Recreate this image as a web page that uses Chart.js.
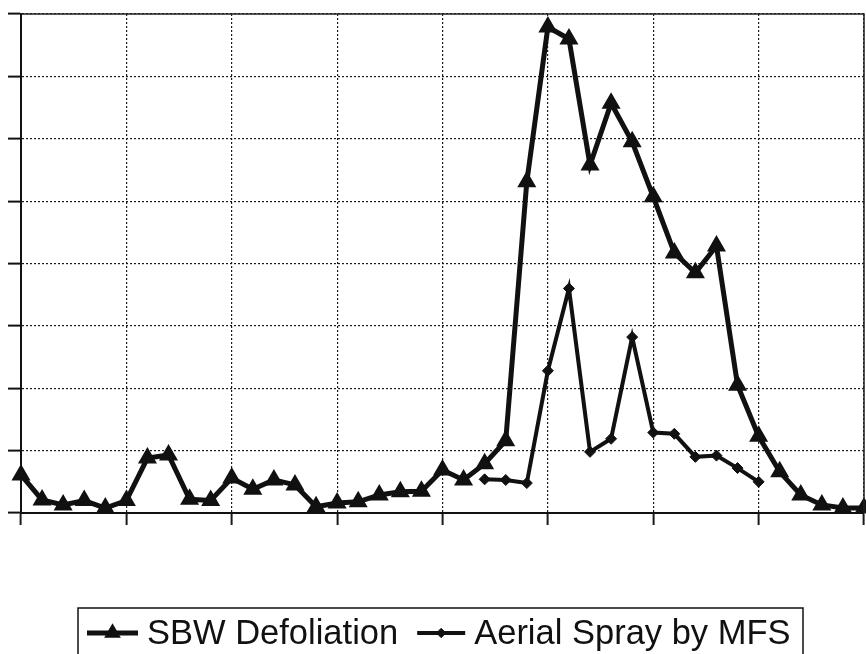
<!DOCTYPE html>
<html>
<head>
<meta charset="utf-8">
<script src="https://cdn.jsdelivr.net/npm/chart.js@4/dist/chart.umd.min.js"></script>
<style>
  html, body { margin: 0; padding: 0; background: #fff; }
  #wrap { width: 866px; height: 654px; }
</style>
</head>
<body>
<div id="wrap"><canvas id="chart" width="866" height="654"></canvas></div>
<script>
// one label per year step, 41 steps; gridline every 5th
const years = Array.from({length: 41}, (_, i) => String(i + 1));

const sbwDefoliation = [6.1, 2.1, 1.3, 2.0, 0.8, 2.0, 8.8, 9.3, 2.2, 2.0,
  5.6, 3.8, 5.3, 4.5, 1.0, 1.6, 1.8, 2.9, 3.4, 3.5,
  6.9, 5.3, 7.9, 11.6, 53.1, 77.9, 76.0, 55.8, 65.7, 59.5,
  50.7, 41.7, 38.5, 42.8, 20.5, 12.3, 6.6, 2.9, 1.3, 0.8, 0.8];

const aerialSpray = [null, null, null, null, null, null, null, null, null, null,
  null, null, null, null, null, null, null, null, null, null,
  null, null, 5.4, 5.3, 4.8, 22.8, 36.0, 9.8, 11.9, 28.2,
  12.9, 12.7, 9.0, 9.2, 7.2, 5.0, null, null, null, null, null];

const yMax = 80;
const yStep = 10;
const ink = '#111';

// legend drawn in a box under the plot, like the original
const legendBox = {
  id: 'legendBox',
  afterDraw(chart) {
    const {ctx} = chart;
    const sets = chart.data.datasets;
    ctx.save();
    ctx.strokeStyle = ink;
    ctx.lineWidth = 1.5;
    ctx.beginPath();
    ctx.moveTo(78, 656);
    ctx.lineTo(78, 608);
    ctx.lineTo(803, 608);
    ctx.lineTo(803, 656);
    ctx.stroke();

    ctx.font = '34.5px "Liberation Sans", Arial, sans-serif';
    ctx.textBaseline = 'middle';
    const y = 633;
    let x = 87;
    sets.forEach((ds, i) => {
      const w = i === 0 ? 51 : 48;
      ctx.strokeStyle = ds.borderColor;
      ctx.lineWidth = ds.borderWidth;
      ctx.beginPath();
      ctx.moveTo(x, y);
      ctx.lineTo(x + w, y);
      ctx.stroke();
      ctx.fillStyle = ds.pointBackgroundColor;
      ctx.strokeStyle = ds.pointBorderColor;
      ctx.lineWidth = ds.pointBorderWidth;
      Chart.helpers.drawPoint(ctx, {
        pointStyle: ds.pointStyle,
        radius: ds.pointRadius * 0.85,
        rotation: 0,
        borderWidth: ds.pointBorderWidth
      }, x + w / 2, y);
      ctx.fillStyle = ink;
      ctx.fillText(ds.label, x + w + 9, y + 1);
      x += w + 9 + ctx.measureText(ds.label).width + 19;
    });

    // plot frame top and right
    const a = chart.chartArea;
    ctx.strokeStyle = '#222';
    ctx.lineWidth = 1.5;
    ctx.beginPath();
    ctx.moveTo(a.left, a.top);
    ctx.lineTo(a.right, a.top);
    ctx.lineTo(a.right, a.bottom);
    ctx.stroke();
    ctx.restore();
  }
};

const gridColor = c => (c.index % 5 === 0 ? '#1a1a1a' : 'rgba(0,0,0,0)');

new Chart(document.getElementById('chart'), {
  type: 'line',
  data: {
    labels: years,
    datasets: [{
      label: 'SBW Defoliation',
      data: sbwDefoliation,
      borderColor: ink,
      borderWidth: 5,
      pointStyle: 'triangle',
      pointRadius: 9,
      pointBackgroundColor: ink,
      pointBorderColor: ink,
      pointBorderWidth: 2,
      tension: 0,
      clip: false,
      order: 1
    }, {
      label: 'Aerial Spray by MFS',
      data: aerialSpray,
      borderColor: ink,
      borderWidth: 4,
      pointStyle: 'rectRot',
      pointRadius: 5.5,
      pointBackgroundColor: ink,
      pointBorderColor: ink,
      pointBorderWidth: 1,
      tension: 0,
      spanGaps: false,
      clip: false,
      order: 2
    }]
  },
  options: {
    responsive: false,
    animation: false,
    layout: { autoPadding: false, padding: { left: 8, right: 2, top: 14, bottom: 129 } },
    plugins: {
      legend: { display: false },
      tooltip: { enabled: false }
    },
    scales: {
      x: {
        type: 'category',
        offset: false,
        ticks: { display: false },
        grid: {
          color: gridColor,
          tickColor: gridColor,
          tickLength: 12,
          tickWidth: 2,
          lineWidth: 1.2
        },
        border: { display: true, color: ink, width: 2, dash: [2, 2] }
      },
      y: {
        min: 0,
        max: yMax,
        ticks: { display: false, stepSize: yStep },
        grid: {
          color: '#1a1a1a',
          tickColor: ink,
          tickLength: 13,
          tickWidth: 2,
          lineWidth: 1.2
        },
        border: { display: true, color: ink, width: 2, dash: [2, 2] }
      }
    }
  },
  plugins: [legendBox]
});
</script>
</body>
</html>
